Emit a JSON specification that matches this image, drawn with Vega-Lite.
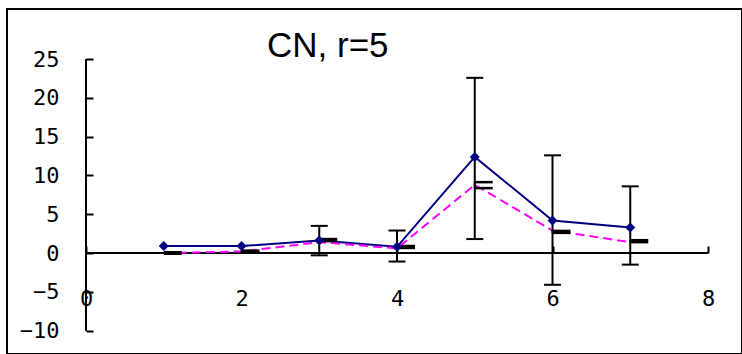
{
  "$schema": "https://vega.github.io/schema/vega-lite/v6.json",
  "width": 735,
  "height": 345,
  "autosize": {"type": "none"},
  "padding": {"left": 7, "top": 9, "right": 0, "bottom": 0},
  "background": "white",
  "config": {
    "view": {"stroke": "black", "strokeWidth": 2},
    "axis": {"grid": false}
  },
  "title": {
    "text": "CN, r=5",
    "anchor": "start",
    "frame": "group",
    "dx": 260,
    "dy": 32,
    "offset": -51,
    "baseline": "alphabetic",
    "font": "Liberation Sans",
    "fontSize": 35,
    "fontWeight": "normal",
    "color": "black"
  },
  "data": {
    "values": [
      {"x": 1, "series": "A", "y": 0.9, "lo": null, "hi": null},
      {"x": 2, "series": "A", "y": 0.9, "lo": null, "hi": null},
      {"x": 3, "series": "A", "y": 1.6, "lo": -0.3, "hi": 3.5},
      {"x": 4, "series": "A", "y": 0.8, "lo": -1.1, "hi": 2.9},
      {"x": 5, "series": "A", "y": 12.4, "lo": 1.8, "hi": 22.6},
      {"x": 6, "series": "A", "y": 4.2, "lo": -4.1, "hi": 12.6},
      {"x": 7, "series": "A", "y": 3.3, "lo": -1.5, "hi": 8.6},
      {"x": 1, "series": "B", "y": 0.0, "lo": -0.1, "hi": 0.1},
      {"x": 2, "series": "B", "y": 0.2, "lo": 0.05, "hi": 0.3},
      {"x": 3, "series": "B", "y": 1.4, "lo": 1.55, "hi": 1.8},
      {"x": 4, "series": "B", "y": 0.6, "lo": 0.65, "hi": 0.9},
      {"x": 5, "series": "B", "y": 8.8, "lo": 8.37, "hi": 9.14},
      {"x": 6, "series": "B", "y": 2.9, "lo": 2.6, "hi": 2.85},
      {"x": 7, "series": "B", "y": 1.4, "lo": 1.4, "hi": 1.65}
    ]
  },
  "layer": [
    {
      "mark": {"type": "rule", "color": "black", "strokeWidth": 2},
      "encoding": {
        "x": {
          "datum": 0, "type": "quantitative",
          "scale": {"domain": [-1.0161, 8.4373], "nice": false, "zero": false},
          "axis": {
            "orient": "bottom", "offset": -101, "values": [0, 2, 4, 6, 8], "format": "d",
            "domain": false, "ticks": true, "tickSize": -7, "tickWidth": 2, "tickColor": "black",
            "labelPadding": 42, "labelFont": "DejaVu Sans Mono", "labelFontSize": 22, "labelColor": "black",
            "labelFlush": false, "labelOverlap": false, "labelBound": false, "title": null, "grid": false
          }
        },
        "x2": {"datum": 8},
        "y": {
          "datum": 0, "type": "quantitative",
          "scale": {"domain": [-13.03, 31.48], "nice": false, "zero": false},
          "axis": {
            "orient": "left", "offset": -79, "values": [-10, -5, 0, 5, 10, 15, 20, 25], "format": "d",
            "domain": false, "ticks": true, "tickSize": -7, "tickWidth": 2, "tickColor": "black",
            "labelPadding": 34, "labelFont": "DejaVu Sans Mono", "labelFontSize": 22, "labelColor": "black",
            "labelFlush": false, "labelOverlap": false, "labelBound": false, "title": null, "grid": false
          }
        }
      }
    },
    {
      "mark": {"type": "rule", "color": "black", "strokeWidth": 2},
      "encoding": {
        "x": {"datum": 0, "type": "quantitative"},
        "y": {"datum": -10, "type": "quantitative"},
        "y2": {"datum": 25}
      }
    },
    {
      "transform": [{"filter": "datum.series == 'A'"}],
      "mark": {"type": "line", "color": "#000080", "strokeWidth": 2},
      "encoding": {
        "x": {"field": "x", "type": "quantitative"},
        "y": {"field": "y", "type": "quantitative"}
      }
    },
    {
      "transform": [{"filter": "datum.series == 'B'"}],
      "mark": {"type": "line", "color": "#FF00FF", "strokeWidth": 2, "strokeDash": [9, 5]},
      "encoding": {
        "x": {"field": "x", "type": "quantitative"},
        "y": {"field": "y", "type": "quantitative"}
      }
    },
    {
      "transform": [{"filter": "datum.series == 'A'"}],
      "mark": {"type": "rule", "color": "black", "strokeWidth": 2},
      "encoding": {
        "x": {"field": "x", "type": "quantitative"},
        "y": {"field": "lo", "type": "quantitative"},
        "y2": {"field": "hi"}
      }
    },
    {
      "transform": [{"filter": "datum.series == 'A'"}],
      "mark": {"type": "tick", "orient": "horizontal", "color": "black", "size": 17, "thickness": 2, "opacity": 1},
      "encoding": {
        "x": {"field": "x", "type": "quantitative"},
        "y": {"field": "lo", "type": "quantitative"}
      }
    },
    {
      "transform": [{"filter": "datum.series == 'A'"}],
      "mark": {"type": "tick", "orient": "horizontal", "color": "black", "size": 17, "thickness": 2, "opacity": 1},
      "encoding": {
        "x": {"field": "x", "type": "quantitative"},
        "y": {"field": "hi", "type": "quantitative"}
      }
    },
    {
      "transform": [{"filter": "datum.series == 'B'"}],
      "mark": {"type": "rule", "color": "black", "strokeWidth": 2},
      "encoding": {
        "x": {"field": "x", "type": "quantitative"},
        "y": {"field": "lo", "type": "quantitative"},
        "y2": {"field": "hi"}
      }
    },
    {
      "transform": [{"filter": "datum.series == 'B'"}],
      "mark": {"type": "tick", "orient": "horizontal", "color": "black", "size": 18, "thickness": 2.5, "opacity": 1, "xOffset": 9},
      "encoding": {
        "x": {"field": "x", "type": "quantitative"},
        "y": {"field": "lo", "type": "quantitative"}
      }
    },
    {
      "transform": [{"filter": "datum.series == 'B'"}],
      "mark": {"type": "tick", "orient": "horizontal", "color": "black", "size": 18, "thickness": 2.5, "opacity": 1, "xOffset": 9},
      "encoding": {
        "x": {"field": "x", "type": "quantitative"},
        "y": {"field": "hi", "type": "quantitative"}
      }
    },
    {
      "transform": [{"filter": "datum.series == 'A'"}],
      "mark": {"type": "point", "shape": "diamond", "filled": true, "color": "#000080", "size": 100, "opacity": 1},
      "encoding": {
        "x": {"field": "x", "type": "quantitative"},
        "y": {"field": "y", "type": "quantitative"}
      }
    }
  ]
}
